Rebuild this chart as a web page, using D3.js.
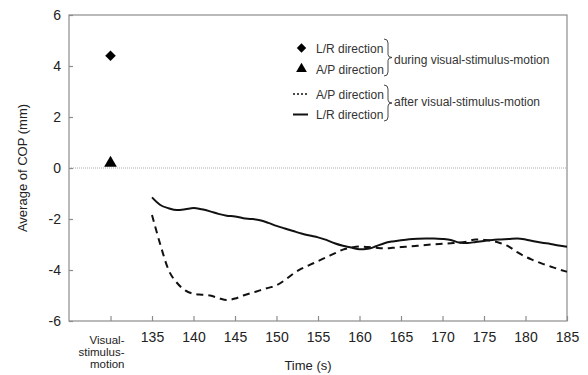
<!DOCTYPE html>
<html>
<head>
<meta charset="utf-8">
<script src="https://cdn.jsdelivr.net/npm/d3@7"></script>
<style>
  body { margin: 0; background: #fff; }
  svg { font-family: "Liberation Sans", Arial, sans-serif; }
</style>
</head>
<body>
<svg width="588" height="375"></svg>
<script>
// values
const times = d3.range(135, 186);
const lrAfter = [-1.15, -1.45, -1.58, -1.65, -1.62, -1.57, -1.62, -1.7, -1.8, -1.87,
  -1.9, -1.97, -2.0, -2.05, -2.15, -2.27, -2.37, -2.47, -2.57, -2.65,
  -2.72, -2.82, -2.95, -3.05, -3.12, -3.19, -3.17, -3.07, -2.95, -2.88,
  -2.83, -2.79, -2.77, -2.76, -2.76, -2.78, -2.82, -2.92, -2.94, -2.9,
  -2.86, -2.82, -2.8, -2.78, -2.76, -2.8, -2.87, -2.93, -2.98, -3.04, -3.09];
const apAfter = [-1.84, -3.0, -4.0, -4.5, -4.8, -4.93, -4.97, -5.0, -5.1, -5.18,
  -5.12, -5.0, -4.9, -4.8, -4.7, -4.6, -4.4, -4.15, -3.95, -3.8,
  -3.65, -3.5, -3.35, -3.2, -3.12, -3.08, -3.1, -3.13, -3.15, -3.13,
  -3.1, -3.08, -3.05, -3.02, -2.99, -2.97, -2.95, -2.93, -2.88, -2.8,
  -2.82, -2.86, -2.95, -3.08, -3.3, -3.48, -3.62, -3.75, -3.86, -3.97, -4.07];
const duringPos = 130; // slot on the x axis for the "during" markers
const lrDuring = 4.4;
const apDuring = 0.15;
const xTicks = [130, 135, 140, 145, 150, 155, 160, 165, 170, 175, 180, 185];
const yTicks = [-6, -4, -2, 0, 2, 4, 6];
const duringLabel = ["Visual-", "stimulus-", "motion"];

const margin = { top: 15, right: 21, bottom: 54, left: 69 },
      width = 588 - margin.left - margin.right,
      height = 375 - margin.top - margin.bottom;

const svg = d3.select("svg")
  .append("g")
  .attr("transform", `translate(${margin.left},${margin.top})`);

const x = d3.scaleLinear().domain([125, 185]).range([0, width]);
const y = d3.scaleLinear().domain([-6, 6]).range([height, 0]);

// frame
svg.append("rect")
  .attr("width", width).attr("height", height)
  .attr("fill", "none").attr("stroke", "#8c8c8c").attr("stroke-width", 1.2);

// zero line
svg.append("line")
  .attr("x1", 0).attr("x2", width)
  .attr("y1", y(0)).attr("y2", y(0))
  .attr("stroke", "#aaa").attr("stroke-width", 1)
  .attr("stroke-dasharray", "1,1");

// x axis
const xAxis = svg.append("g")
  .attr("transform", `translate(0,${height})`)
  .call(d3.axisBottom(x).tickValues(xTicks).tickSizeInner(-5).tickSizeOuter(0)
    .tickFormat(d => d === duringPos ? "" : String(d)));
xAxis.select(".domain").remove();
xAxis.selectAll("line").attr("stroke", "#8c8c8c").attr("stroke-width", 1.2);
xAxis.selectAll("text").attr("font-size", 14).attr("fill", "#222").attr("dy", "1.25em");

// multi-line label for the during slot
const dl = svg.append("text")
  .attr("text-anchor", "end")
  .attr("font-size", 11.5)
  .attr("fill", "#222")
  .attr("x", x(duringPos) + 14)
  .attr("y", height + 23);
duringLabel.forEach((t, i) => {
  dl.append("tspan").attr("x", x(duringPos) + 14).attr("dy", i === 0 ? 0 : 12).text(t);
});

// y axis
const yAxis = svg.append("g")
  .call(d3.axisLeft(y).tickValues(yTicks).tickSizeInner(-4).tickSizeOuter(0)
    .tickFormat(d => String(d)));
yAxis.select(".domain").remove();
yAxis.selectAll("line").attr("stroke", "#8c8c8c").attr("stroke-width", 1.2);
yAxis.selectAll("text").attr("font-size", 14).attr("fill", "#222").attr("x", -8);

// lines
const line = d3.line().x((d, i) => x(times[i])).y(d => y(d)).curve(d3.curveMonotoneX);
svg.append("path").datum(apAfter)
  .attr("d", line).attr("fill", "none")
  .attr("stroke", "#111").attr("stroke-width", 2)
  .attr("stroke-dasharray", "7,5");
svg.append("path").datum(lrAfter)
  .attr("d", line).attr("fill", "none")
  .attr("stroke", "#111").attr("stroke-width", 2);

// during markers
svg.append("path")
  .attr("d", d3.symbol(d3.symbolSquare, 56)())
  .attr("transform", `translate(${x(duringPos)},${y(lrDuring)}) rotate(45)`)
  .attr("fill", "#000");
svg.append("path")
  .attr("d", d3.symbol(d3.symbolTriangle, 70)())
  .attr("transform", `translate(${x(duringPos)},${y(apDuring) - 1})`)
  .attr("fill", "#000");

// legend
const lg = svg.append("g").attr("font-size", 12).attr("fill", "#333");
const lx = 232; // relative to plot
lg.append("path")
  .attr("d", d3.symbol(d3.symbolSquare, 44)())
  .attr("transform", `translate(${lx + 0.5},${33}) rotate(45)`).attr("fill", "#000");
lg.append("path")
  .attr("d", d3.symbol(d3.symbolTriangle, 50)())
  .attr("transform", `translate(${lx + 0.5},${54})`).attr("fill", "#000");
lg.append("line").attr("x1", lx - 8).attr("x2", lx + 7).attr("y1", 79).attr("y2", 79)
  .attr("stroke", "#111").attr("stroke-width", 1.3).attr("stroke-dasharray", "2,2");
lg.append("line").attr("x1", lx - 8).attr("x2", lx + 7).attr("y1", 99.5).attr("y2", 99.5)
  .attr("stroke", "#111").attr("stroke-width", 2);

const labels = [["L/R direction", 37.5], ["A/P direction", 58.5], ["A/P direction", 83.5], ["L/R direction", 104]];
labels.forEach(([t, yy]) => {
  lg.append("text").attr("x", lx + 15).attr("y", yy).text(t);
});

// curly braces
function brace(y0, y1, bx) {
  const m = (y0 + y1) / 2;
  return `M${bx},${y0} q4,0 4,4 L${bx + 4},${m - 3} q0,3 4,3 q-4,0 -4,3 L${bx + 4},${y1 - 4} q0,4 -4,4`;
}
lg.append("path").attr("d", brace(24, 61, 315)).attr("fill", "none").attr("stroke", "#333").attr("stroke-width", 0.9);
lg.append("path").attr("d", brace(70, 106, 315)).attr("fill", "none").attr("stroke", "#333").attr("stroke-width", 0.9);
lg.append("text").attr("x", 325).attr("y", 49).text("during visual-stimulus-motion");
lg.append("text").attr("x", 325).attr("y", 91).text("after visual-stimulus-motion");

// axis titles
svg.append("text")
  .attr("transform", "rotate(-90)")
  .attr("x", -y(0))
  .attr("y", -margin.left + 27)
  .attr("text-anchor", "middle")
  .attr("font-size", 13)
  .attr("fill", "#222")
  .text("Average of COP (mm)");

svg.append("text")
  .attr("x", x(155) - 10)
  .attr("y", height + 49)
  .attr("text-anchor", "middle")
  .attr("font-size", 13)
  .attr("fill", "#222")
  .text("Time (s)");
</script>
</body>
</html>
